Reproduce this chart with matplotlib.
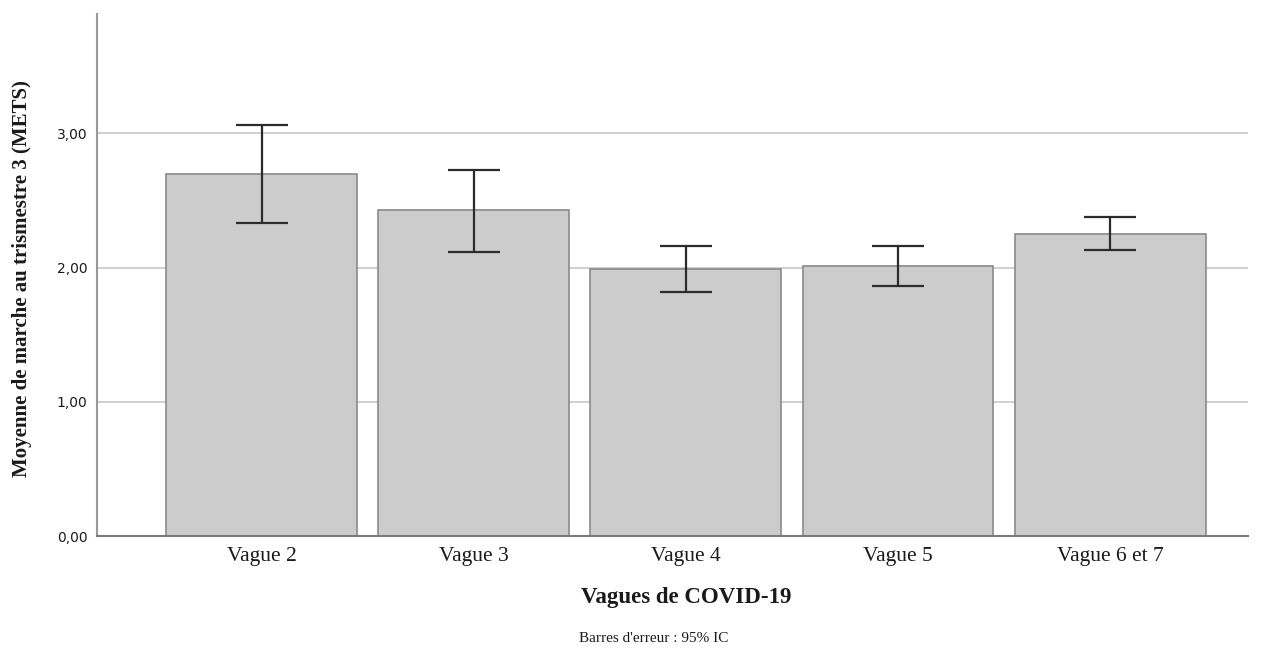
import numpy as np
import matplotlib.pyplot as plt

# values
categories = ['Vague 2', 'Vague 3', 'Vague 4', 'Vague 5', 'Vague 6 et 7']
means = [2.70, 2.43, 1.99, 2.01, 2.25]
ci_low = [2.33, 2.12, 1.82, 1.86, 2.13]
ci_high = [3.06, 2.73, 2.16, 2.16, 2.38]
yticks = [0, 1, 2, 3]
ytick_labels = ['0,00', '1,00', '2,00', '3,00']

serif = 'Liberation Serif'

fig = plt.figure(figsize=(12.62, 6.48), dpi=100)
ax = fig.add_axes([97 / 1262, 1 - 536 / 648, (1248 - 97) / 1262, (536 - 14) / 648])

x = np.arange(len(categories))
means = np.array(means)
err = [means - np.array(ci_low), np.array(ci_high) - means]

#Gridlines behind bars
for t in yticks[1:]:
    ax.axhline(t, color='#cccccc', lw=1.3, zorder=0)

ax.bar(x, means, width=0.9, color='#cccccc', edgecolor='#8a8a8a', lw=1.2, zorder=2)
ax.errorbar(x, means, yerr=err, fmt='none', ecolor='#2b2b2b', elinewidth=1.6,
            capsize=19, capthick=1.6, zorder=3)

ax.set_xlim(-0.776, 4.65)
ax.set_ylim(0, 3.89)
ax.set_xticks(x)
ax.set_xticklabels(categories, fontfamily=serif, fontsize=15.5)
ax.set_yticks(yticks)
ax.set_yticklabels(ytick_labels, fontfamily='DejaVu Sans', fontsize=10)
ax.tick_params(axis='x', length=0, pad=8, colors='#1a1a1a')
ax.tick_params(axis='y', length=0, pad=7, colors='#1a1a1a')

for s in ['top', 'right']:
    ax.spines[s].set_visible(False)
ax.spines['left'].set_color('#999999')
ax.spines['left'].set_linewidth(1.5)
ax.spines['bottom'].set_color('#7a7a7a')
ax.spines['bottom'].set_linewidth(1.5)

fig.text(22 / 1262, 1 - 279 / 648, 'Moyenne de marche au trismestre 3 (METS)',
         rotation=90, ha='center', va='center', fontfamily=serif,
         fontweight='bold', fontsize=15, color='#1a1a1a')
fig.text(686 / 1262, 1 - 598 / 648, 'Vagues de COVID-19', ha='center', va='center',
         fontfamily=serif, fontweight='bold', fontsize=16.5, color='#1a1a1a')
fig.text(654 / 1262, 1 - 638 / 648, "Barres d'erreur : 95% IC", ha='center', va='center',
         fontfamily=serif, fontsize=11, color='#1a1a1a')

fig.savefig('out.png', dpi=100)
